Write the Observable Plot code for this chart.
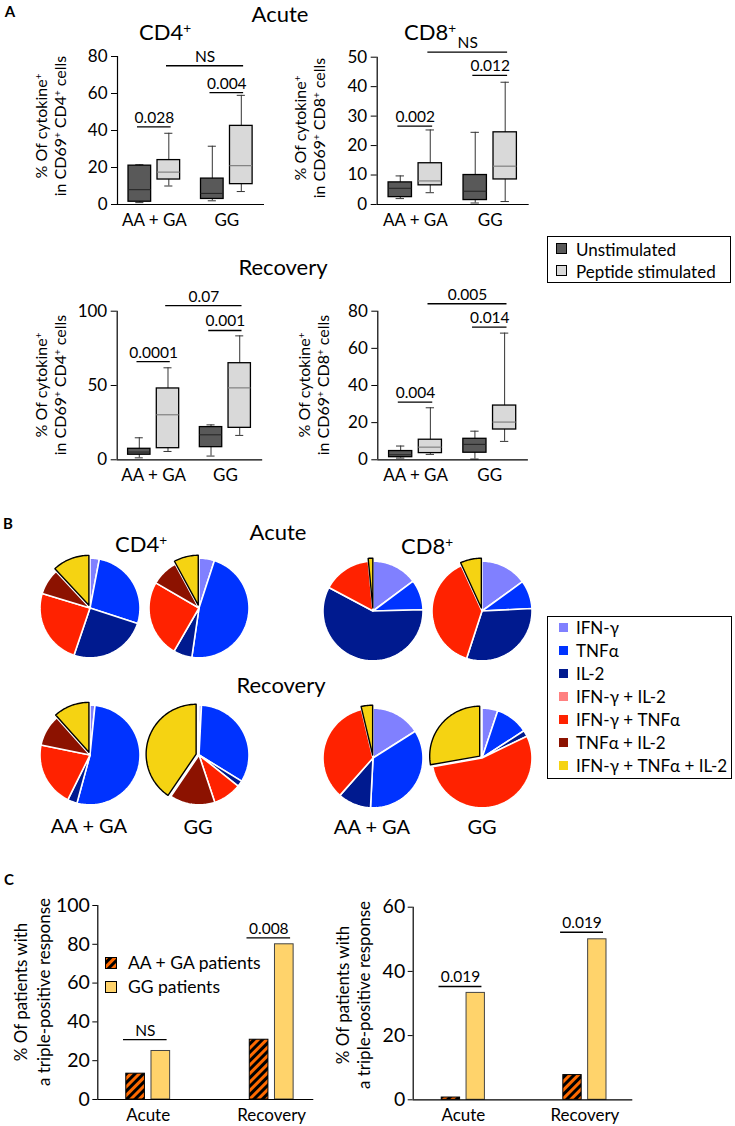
<!DOCTYPE html>
<html><head><meta charset="utf-8">
<script src="https://cdn.jsdelivr.net/npm/d3@7"></script>
<script src="https://cdn.jsdelivr.net/npm/@observablehq/plot@0.6"></script>
<style>
html,body{margin:0;padding:0;background:#fff;}
#root{position:relative;width:735px;height:1126px;overflow:hidden;font-family:Lato,"Open Sans",sans-serif;color:#000;}
.t{position:absolute;white-space:nowrap;transform:translate(-50%,-50%);line-height:1;}
.r{position:absolute;white-space:nowrap;transform:translate(-50%,-50%) rotate(-90deg);text-align:center;}
sup{font-size:0.62em;vertical-align:0.5em;line-height:0;}
.lg{position:absolute;border:1.3px solid #000;box-sizing:border-box;background:#fff;}
.li{position:absolute;white-space:nowrap;line-height:1;transform:translateY(-50%);}
.sw{position:absolute;box-sizing:border-box;}
</style></head>
<body>
<svg width="0" height="0" style="position:absolute">
<defs>
<pattern id="hatch" patternUnits="userSpaceOnUse" width="6" height="6" patternTransform="rotate(45)">
<rect width="6" height="6" fill="#000"/><rect width="3" height="6" fill="#ff6a00"/>
</pattern>
</defs>
</svg>
<div id="root"></div>
<script>
// ================= DATA =================
// Panel A — box plot summaries [min, q1, median, q3, max]
// order: AA+GA unstimulated, AA+GA peptide, GG unstimulated, GG peptide
const genotypes = ["AA + GA", "GG"];
const stimuli = ["Unstimulated", "Peptide stimulated"];
const acuteCD4Box = [[1,1.5,8,21,21.5],[10,13.5,17.5,24,38.5],[2,3,6,14,31.5],[7,11,21,42.5,59]];
const acuteCD8Box = [[2,2.5,5.5,7.5,9.7],[4,6.5,8,14,25.3],[0.5,1.5,4.5,10,24.5],[1,8.5,13,24.5,41.5]];
const recoveryCD4Box = [[1.3,3.4,5.2,7.4,14.8],[5.6,7.8,30.3,48,61.9],[2.5,8.5,16.8,22,23.5],[16.4,21.5,48.4,65,83.4]];
const recoveryCD8Box = [[0.9,1.4,2.7,4.7,7.4],[2.9,3.6,6.8,10.8,28],[0.4,3.8,8.3,11.3,15.4],[9.9,16.3,20.3,29.2,68.2]];
// significance bars: [label, from box, to box, height]
const acuteCD4Sig = [["0.028",0,1,42],["0.004",2,3,60.5],["NS",1,3,75]];
const acuteCD8Sig = [["0.002",0,1,26.6],["0.012",2,3,43.8],["NS",1,3,51.7]];
const recoveryCD4Sig = [["0.0001",0,1,66],["0.001",2,3,87],["0.07",1,3,103.8]];
const recoveryCD8Sig = [["0.004",0,1,31],["0.014",2,3,71.4],["0.005",1,3,84]];
const acuteCD4Ticks = [0,20,40,60,80];
const acuteCD8Ticks = [0,10,20,30,40,50];
const recoveryCD4Ticks = [0,50,100];
const recoveryCD8Ticks = [0,20,40,60,80];

// Panel B — cytokine profile (% of responding cells)
const phases = ["Acute","Recovery"];
const cytokines = ["IFN-γ","TNFα","IL-2","IFN-γ + IL-2","IFN-γ + TNFα","TNFα + IL-2","IFN-γ + TNFα + IL-2"];
const cytokineColors = ["#8080ff","#0033ff","#001a8f","#ff8080","#ff2200","#8c1200","#f5d312"];
const pieCD4AcuteAAGA = [3,27,25.2,0,24.5,8.4,11.9];
const pieCD4AcuteGG = [5,47.3,6,0,25.1,8.7,7.9];
const pieCD4RecoveryAAGA = [1.6,52.6,3.1,0,20.9,10.2,11.6];
const pieCD4RecoveryGG = [0.8,33,1.9,0,9.2,14.6,40.5];
const pieCD8AcuteAAGA = [14.8,9.8,58.2,0,15.7,0,1.5];
const pieCD8AcuteGG = [15,9.2,30.8,0,38.2,0,6.8];
const pieCD8RecoveryAAGA = [16,34.8,10.7,0,34.8,0,3.7];
const pieCD8RecoveryGG = [5.1,10.7,2,0,54.4,0,27.8];

// Panel C — % of patients with a triple-positive response (Acute, Recovery)
const tripleGroups = ["AA + GA patients","GG patients"];
const tripleCD4AAGA = [13.3,30.8];
const tripleCD4GG = [25,80];
const tripleCD8AAGA = [0.7,7.7];
const tripleCD8GG = [33.3,50];
const tripleCD4Sig = [["NS",0,30.9],["0.008",1,83.3]];
const tripleCD8Sig = [["0.019",0,35.3],["0.019",1,52.2]];
const tripleCD4Ticks = [0,20,40,60,80,100];
const tripleCD8Ticks = [0,20,40,60];

// ================= HELPERS =================
const FONT = "Lato, 'Open Sans', sans-serif";
const root = document.getElementById("root");
function place(node, left, top, w){
  const wrap = document.createElement("div");
  wrap.style.cssText = `position:absolute;left:${left}px;top:${top}px;width:${w}px;`;
  wrap.appendChild(node); root.appendChild(wrap);
}
function txt(html, x, y, size, extra){
  const d = document.createElement("div");
  d.className = "t"; d.innerHTML = html;
  d.style.left = x+"px"; d.style.top = y+"px"; d.style.fontSize = size+"px";
  if (extra) Object.assign(d.style, extra);
  root.appendChild(d);
}
function rot(html, x, y, size, lh){
  const d = document.createElement("div");
  d.className = "r"; d.innerHTML = html;
  d.style.left = x+"px"; d.style.top = y+"px"; d.style.fontSize = size+"px"; d.style.lineHeight = lh+"px";
  root.appendChild(d);
}

// ================= PANEL A =================
const GAP = 2.5;
const boxPos = i => Math.floor(i/2)*GAP + i%2;
function boxChart(stats, sig, ticks, lay){
  const rows = stats.map((s,i)=>({i, g:Math.floor(i/2), s:i%2, min:s[0], q1:s[1], med:s[2], q3:s[3], max:s[4]}));
  const sigRows = sig.map(([label,a,b,y])=>({label, x1:boxPos(a)-0.08, x2:boxPos(b)+0.08, y}));
  const xd = [-0.77, 4.3];
  const mr = 8, mb = 28;
  const w = lay.ml + lay.xw + mr;
  const h = lay.y0 - lay.top + mb;
  const p = d => boxPos(d.i);
  const half = 0.39, cap = 0.14;
  const svg = Plot.plot({
    width: w, height: h,
    marginLeft: lay.ml, marginRight: mr, marginTop: lay.ytop - lay.top, marginBottom: mb,
    style: {background:"transparent", fontFamily: FONT, overflow:"visible", color:"#000"},
    x: {domain: xd},
    y: {domain: [0, ticks[ticks.length-1]]},
    color: {domain: stimuli, range: ["#595959","#d9d9d9"]},
    marks: [
      Plot.ruleX(rows, {x: p, y1:"min", y2:"max", stroke:"#333", strokeWidth:1}),
      Plot.ruleY(rows, {y:"min", x1: d=>p(d)-cap, x2: d=>p(d)+cap, stroke:"#333", strokeWidth:1}),
      Plot.ruleY(rows, {y:"max", x1: d=>p(d)-cap, x2: d=>p(d)+cap, stroke:"#333", strokeWidth:1}),
      Plot.rect(rows, {x1: d=>p(d)-half, x2: d=>p(d)+half, y1:"q1", y2:"q3", fill: d=>stimuli[d.s], stroke:"#000", strokeWidth:1.3}),
      Plot.ruleY(rows.filter(d=>d.s===0), {y:"med", x1: d=>p(d)-half, x2: d=>p(d)+half, stroke:"#222", strokeWidth:1}),
      Plot.ruleY(rows.filter(d=>d.s===1), {y:"med", x1: d=>p(d)-half, x2: d=>p(d)+half, stroke:"#808080", strokeWidth:1.2}),
      Plot.ruleX([xd[0]], {stroke:"#000", strokeWidth:1.2}),
      Plot.ruleY([0], {stroke:"#000", strokeWidth:1.2}),
      Plot.axisY(ticks, {tickSize:6, tickPadding:4, fontSize:17, label:null}),
      Plot.axisX(genotypes.map((g,i)=>i*GAP+0.5), {tickSize:0, tickPadding:9, fontSize:17, label:null,
        tickFormat: d => genotypes[Math.round((d-0.5)/GAP)]}),
      Plot.ruleY(sigRows, {y:"y", x1:"x1", x2:"x2", stroke:"#000", strokeWidth:1.3}),
      Plot.text(sigRows, {x: d=>(d.x1+d.x2)/2, y:"y", text:"label", dy:-9, fontSize:15.5})
    ]
  });
  place(svg, lay.left, lay.top, w);
}
boxChart(acuteCD4Box, acuteCD4Sig, acuteCD4Ticks, {left:0, top:25, ml:117, xw:147, ytop:56, y0:204});
boxChart(acuteCD8Box, acuteCD8Sig, acuteCD8Ticks, {left:265, top:25, ml:111.7, xw:152, ytop:56.7, y0:204});
boxChart(recoveryCD4Box, recoveryCD4Sig, recoveryCD4Ticks, {left:0, top:280, ml:116.7, xw:145.5, ytop:310.7, y0:459.3});
boxChart(recoveryCD8Box, recoveryCD8Sig, recoveryCD8Ticks, {left:265, top:280, ml:112.3, xw:150.6, ytop:310.7, y0:459.3});

// ================= PANEL B =================
function slicePoints(values, genotype, phase){
  const total = d3.sum(values);
  let a0 = 0; const pts = [];
  values.forEach((v,k)=>{
    if (!v) return;
    const a1 = a0 + v/total*2*Math.PI;
    const ex = k === 6 ? 0.06 : 0;
    const mid = (a0+a1)/2, ox = ex*Math.sin(mid), oy = ex*Math.cos(mid);
    const n = Math.max(2, Math.ceil((a1-a0)/(Math.PI/120)));
    const id = genotype+"|"+phase+"|"+k;
    const base = {id, k, cytokine: cytokines[k], genotype, phase};
    pts.push({...base, x: ox, y: oy});
    for (let j=0;j<=n;j++){ const a = a0+(a1-a0)*j/n; pts.push({...base, x: ox+Math.sin(a), y: oy+Math.cos(a)}); }
    a0 = a1;
  });
  return pts;
}
function pieChart(sets, lay){
  const pts = sets.flatMap(([vals,g,ph])=>slicePoints(vals,g,ph));
  const colW = 109, rowH = 147.5, r = 50;
  const ml = 34.5, mr = 10, mt = 3.5, mb = 5;
  const w = ml + 2*colW + mr, h = mt + 2*rowH + mb;
  const common = {x:"x", y:"y", z:"id", fx:"genotype", fy:"phase", fill:"cytokine", curve:"linear-closed", strokeLinejoin:"round"};
  const svg = Plot.plot({
    width: w, height: h, marginLeft: ml, marginRight: mr, marginTop: mt, marginBottom: mb,
    style: {background:"transparent", fontFamily: FONT, overflow:"visible"},
    fx: {domain: genotypes, padding: 0, axis: null},
    fy: {domain: phases, padding: 0, axis: null},
    x: {domain: [-colW/2/r, colW/2/r], axis: null},
    y: {domain: [-rowH/2/r, rowH/2/r], axis: null},
    color: {domain: cytokines, range: cytokineColors},
    marks: [
      Plot.line(pts.filter(d=>d.k!==6), {...common, stroke:"#fff", strokeWidth:1.6}),
      Plot.line(pts.filter(d=>d.k===6), {...common, stroke:"#000", strokeWidth:1.4})
    ]
  });
  place(svg, lay.left, lay.top, w);
}
pieChart([[pieCD4AcuteAAGA,"AA + GA","Acute"],[pieCD4AcuteGG,"GG","Acute"],[pieCD4RecoveryAAGA,"AA + GA","Recovery"],[pieCD4RecoveryGG,"GG","Recovery"]], {left:0, top:530});
pieChart([[pieCD8AcuteAAGA,"AA + GA","Acute"],[pieCD8AcuteGG,"GG","Acute"],[pieCD8RecoveryAAGA,"AA + GA","Recovery"],[pieCD8RecoveryGG,"GG","Recovery"]], {left:283.3, top:533});

// ================= PANEL C =================
const GAP_C = 4.9;
function tripleChart(aaga, gg, sig, ticks, lay){
  const rows = [];
  phases.forEach((ph,i)=>{ rows.push({ph:i, grp:0, v:aaga[i]}); rows.push({ph:i, grp:1, v:gg[i]}); });
  const p = d => d.ph*GAP_C + d.grp;
  const sigRows = sig.map(([label,ph,y])=>({label, x1: ph*GAP_C-0.48, x2: ph*GAP_C+1.25, y}));
  const mr = 6, mb = 27;
  const w = lay.ml + lay.xw + mr, h = lay.y0 - lay.top + mb;
  const hw = 0.37;
  const svg = Plot.plot({
    width: w, height: h, marginLeft: lay.ml, marginRight: mr, marginTop: lay.ytop - lay.top, marginBottom: mb,
    style: {background:"transparent", fontFamily: FONT, overflow:"visible", color:"#000"},
    x: {domain: lay.xd},
    y: {domain: [0, ticks[ticks.length-1]]},
    marks: [
      Plot.rect(rows.filter(d=>d.grp===0), {x1: d=>p(d)-hw, x2: d=>p(d)+hw, y1: ()=>0, y2:"v", fill:"url(#hatch)", stroke:"#000", strokeWidth:1}),
      Plot.rect(rows.filter(d=>d.grp===1), {x1: d=>p(d)-hw, x2: d=>p(d)+hw, y1: ()=>0, y2:"v", fill:"#ffd36b", stroke:"#444", strokeWidth:1}),
      Plot.ruleX([lay.xd[0]], {stroke:"#000", strokeWidth:1.2}),
      Plot.ruleY([0], {stroke:"#000", strokeWidth:1.2}),
      Plot.axisY(ticks, {tickSize:5, tickPadding:3, fontSize:19.5, label:null}),
      Plot.axisX(phases.map((g,i)=>i*GAP_C+0.5), {tickSize:0, tickPadding:9, fontSize:17, label:null,
        tickFormat: d => phases[Math.round((d-0.5)/GAP_C)]}),
      Plot.ruleY(sigRows, {y:"y", x1:"x1", x2:"x2", stroke:"#000", strokeWidth:1.3}),
      Plot.text(sigRows, {x: d=>(d.x1+d.x2)/2, y:"y", text:"label", dy:-9, fontSize:15.5})
    ]
  });
  place(svg, lay.left, lay.top, w);
}
tripleChart(tripleCD4AAGA, tripleCD4GG, tripleCD4Sig, tripleCD4Ticks, {left:0, top:880, ml:97.3, xw:216, ytop:905, y0:1099, xd:[-1.5,7.07]});
tripleChart(tripleCD8AAGA, tripleCD8GG, tripleCD8Sig, tripleCD8Ticks, {left:330, top:880, ml:82.7, xw:219.6, ytop:906.7, y0:1099.3, xd:[-1.52,7.33]});

// ================= TEXT =================
txt("<b>A</b>", 10, 11, 15);
txt("Acute", 280, 14, 22);
txt("CD4<sup>+</sup>", 165, 32, 22);
txt("CD8<sup>+</sup>", 430, 32, 22);
txt("Recovery", 283, 267, 22);
const ylabCD4 = "% Of cytokine<sup>+</sup><br>in CD69<sup>+</sup> CD4<sup>+</sup> cells";
const ylabCD8 = "% Of cytokine<sup>+</sup><br>in CD69<sup>+</sup> CD8<sup>+</sup> cells";
rot(ylabCD4, 49.5, 126, 16, 19);
rot(ylabCD8, 308.5, 128, 16, 19);
rot(ylabCD4, 49.5, 385, 16, 19);
rot(ylabCD8, 313, 385, 16, 19);

// legend A
(function(){
  const lg = document.createElement("div"); lg.className = "lg";
  lg.style.cssText += "left:547px;top:236px;width:184px;height:47px;";
  root.appendChild(lg);
  const fills = ["#595959","#d9d9d9"];
  stimuli.forEach((s,i)=>{
    const y = 248.5 + i*22;
    const sw = document.createElement("div"); sw.className = "sw";
    sw.style.cssText += `left:556px;top:${y-5.5}px;width:11px;height:11px;background:${fills[i]};border:1px solid #000;`;
    root.appendChild(sw);
    const t = document.createElement("div"); t.className = "li"; t.textContent = s;
    t.style.cssText += `left:576px;top:${y}px;font-size:17px;`;
    root.appendChild(t);
  });
})();

txt("<b>B</b>", 8, 523, 15);
txt("CD4<sup>+</sup>", 141, 544, 22);
txt("Acute", 278, 532, 22);
txt("CD8<sup>+</sup>", 427, 546, 22);
txt("Recovery", 281, 685, 22);
txt("AA + GA", 89, 825, 20);
txt("GG", 198, 826, 20);
txt("AA + GA", 372, 826, 20);
txt("GG", 482, 826, 20);

// legend B
(function(){
  const lg = document.createElement("div"); lg.className = "lg";
  lg.style.cssText += "left:547px;top:616px;width:185px;height:163px;";
  root.appendChild(lg);
  cytokines.forEach((c,i)=>{
    const y = 627 + i*23;
    const sw = document.createElement("div"); sw.className = "sw";
    sw.style.cssText += `left:559px;top:${y-4.5}px;width:9px;height:9px;background:${cytokineColors[i]};`;
    root.appendChild(sw);
    const t = document.createElement("div"); t.className = "li"; t.textContent = c;
    t.style.cssText += `left:576px;top:${y}px;font-size:17px;`;
    root.appendChild(t);
  });
})();

txt("<b>C</b>", 9, 879, 15);
rot("% Of patients with<br>a triple-positive response", 31.5, 992, 17, 22.5);
rot("% Of patients with<br>a triple-positive response", 352.5, 995, 17, 21);
// legend C
(function(){
  const fills = ["url(#hatch)","#ffd36b"];
  tripleGroups.forEach((g,i)=>{
    const y = 963 + i*24;
    const ns = "http://www.w3.org/2000/svg";
    const s = document.createElementNS(ns,"svg");
    s.setAttribute("width",12); s.setAttribute("height",12);
    s.style.cssText = `position:absolute;left:105px;top:${y-6}px;`;
    const r = document.createElementNS(ns,"rect");
    r.setAttribute("x",0.5); r.setAttribute("y",0.5); r.setAttribute("width",11); r.setAttribute("height",11);
    r.setAttribute("fill",fills[i]); r.setAttribute("stroke","#000");
    s.appendChild(r); root.appendChild(s);
    const t = document.createElement("div"); t.className = "li"; t.textContent = g;
    t.style.cssText += `left:128px;top:${y}px;font-size:17.5px;`;
    root.appendChild(t);
  });
})();
</script>
</body></html>
